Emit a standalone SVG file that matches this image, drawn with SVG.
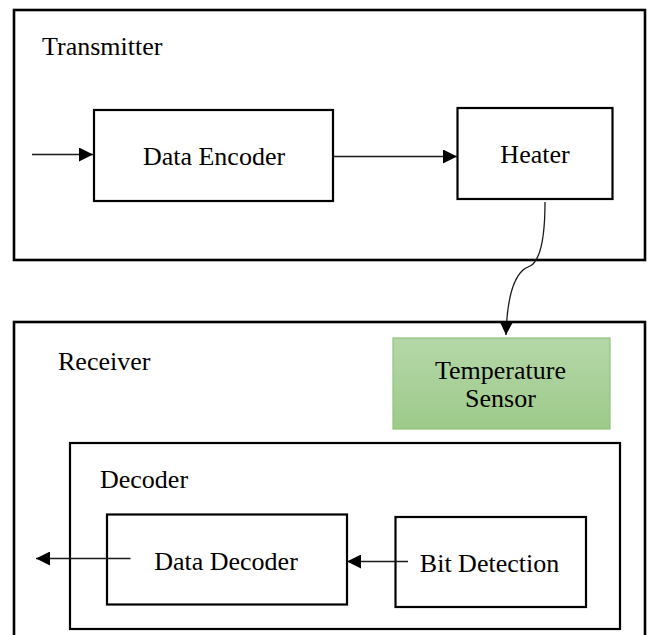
<svg xmlns="http://www.w3.org/2000/svg" width="649" height="635" viewBox="0 0 649 635">
  <style>
    .box { fill: #ffffff; stroke: #000000; stroke-width: 2.2; }
    .frame { fill: none; stroke: #000000; stroke-width: 2.6; }
    .label { font-family: "Liberation Serif", "Times New Roman", serif; font-size: 26px; fill: #000000; }
    .mid { text-anchor: middle; }
    .wire { fill: none; stroke: #1a1a1a; stroke-width: 1.3; }
  </style>
  <defs>
    <linearGradient id="sensorFill" x1="0" y1="0" x2="0" y2="1">
      <stop offset="0" stop-color="#b5d7a8"/>
      <stop offset="1" stop-color="#9dca8a"/>
    </linearGradient>
    <marker id="head" viewBox="0 0 14 14" refX="14" refY="7" markerWidth="14" markerHeight="14" markerUnits="userSpaceOnUse" orient="auto">
      <path d="M0,0 L14,7 L0,14 Z" fill="#000000"/>
    </marker>
  </defs>

  <rect width="649" height="635" fill="#ffffff"/>

  <!-- Transmitter -->
  <g id="transmitter">
    <rect class="frame" x="14" y="10" width="631" height="250"/>
    <text class="label" x="42" y="55">Transmitter</text>
  </g>
  <g id="data-encoder">
    <rect class="box" x="94" y="110" width="239" height="91"/>
    <text class="label mid" x="214" y="164.5">Data Encoder</text>
  </g>
  <g id="heater">
    <rect class="box" x="457.5" y="108" width="155" height="91"/>
    <text class="label mid" x="535" y="163">Heater</text>
  </g>

  <!-- Receiver -->
  <g id="receiver">
    <rect class="frame" x="14" y="322" width="631" height="330"/>
    <text class="label" x="58" y="370">Receiver</text>
  </g>
  <g id="temperature-sensor">
    <rect x="393" y="338" width="217" height="91" fill="url(#sensorFill)" stroke="#8fc47b" stroke-width="1.2"/>
    <text class="label mid" x="500.5" y="378.5">Temperature</text>
    <text class="label mid" x="500.5" y="407">Sensor</text>
  </g>
  <g id="decoder">
    <rect class="box" x="70" y="443" width="550" height="186"/>
    <text class="label" x="100" y="488">Decoder</text>
  </g>
  <g id="data-decoder">
    <rect class="box" x="107" y="514.5" width="240" height="90"/>
    <text class="label mid" x="226" y="570">Data Decoder</text>
  </g>
  <g id="bit-detection">
    <rect class="box" x="395.5" y="517" width="190.5" height="90"/>
    <text class="label mid" x="489.5" y="571.5">Bit Detection</text>
  </g>

  <!-- Connectors -->
  <g id="connectors">
    <path class="wire" d="M32,154.5 L93,154.5" marker-end="url(#head)"/>
    <path class="wire" d="M334,156.5 L457,156.5" marker-end="url(#head)"/>
    <path class="wire" d="M545,202 C545,232 541,256 533,264 C530,267 526,267 523,270 C513,279 507,300 506,335" marker-end="url(#head)"/>
    <path class="wire" d="M408,561.5 L347,561.5" marker-end="url(#head)"/>
    <path class="wire" d="M130.5,558.5 L36,558.5" marker-end="url(#head)"/>
  </g>
</svg>
